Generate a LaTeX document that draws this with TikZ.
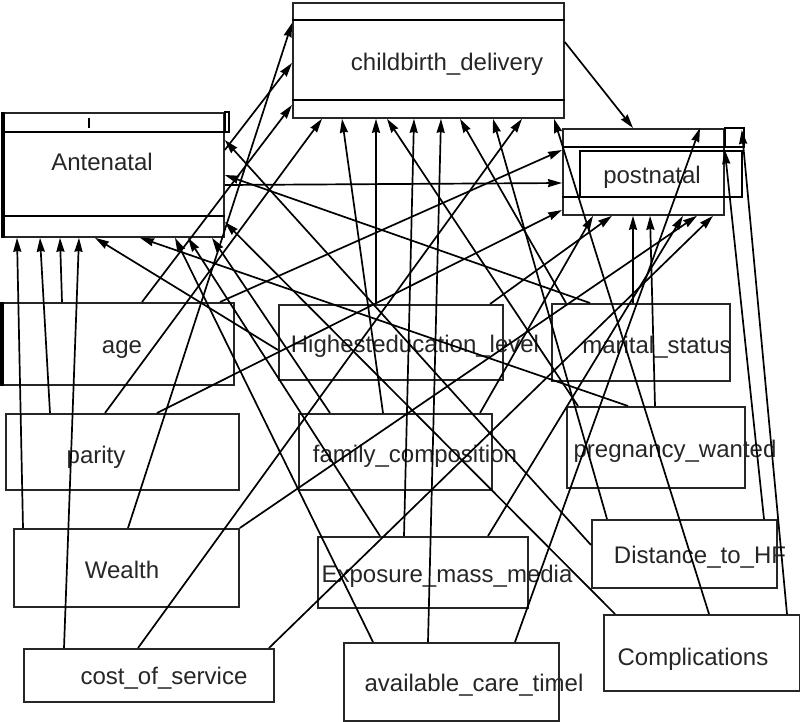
\documentclass[tikz,border=0pt]{standalone}
\usepackage{fontspec}
\setmainfont{Liberation Sans}
\usepackage{tikz}
\usetikzlibrary{arrows.meta}

\tikzset{
  box/.style={draw=black!85, line width=1.8pt, inner sep=0pt, anchor=north west},
  lbl/.style={font=\fontsize{24}{28}\selectfont, text=black!85, inner sep=0pt, anchor=base},
  arr/.style={-{Stealth[length=14pt,width=8pt,inset=1pt]}, line width=1.7pt},
}

\begin{document}
\begin{tikzpicture}[x=1pt,y=-1pt]
\useasboundingbox (0,0) rectangle (800,721);

% outcome boxes
\node[box, minimum width=220pt, minimum height=124pt] (ante) at (3,112) {};
\node[box, minimum width=271pt, minimum height=115pt] (cb) at (292,2) {};
\node[box, minimum width=161pt, minimum height=86pt] (pn) at (562,128) {};
\draw[line width=1.8pt] ([yshift=-20pt]ante.north west) -- ([yshift=-20pt]ante.north east);
\draw[line width=1.8pt] ([yshift=22pt]ante.south west) -- ([yshift=22pt]ante.south east);
\draw[line width=1.8pt] (ante.north east) rectangle ++(4,20);
\draw[line width=3.5pt] (ante.north west) -- (ante.south west);
\draw[line width=1.2pt] ([shift={(86,6)}]ante.north west) -- ++(0,10);
\draw[line width=1.8pt] ([yshift=-18pt]cb.north west) -- ([yshift=-18pt]cb.north east);
\draw[line width=1.8pt] ([yshift=19pt]cb.south west) -- ([yshift=19pt]cb.south east);
\draw[line width=1.8pt] ([yshift=-19pt]pn.north west) -- ([yshift=-19pt]pn.north east);
\draw[line width=1.8pt] ([yshift=19pt]pn.south west) -- ([yshift=19pt]pn.south east);
\draw[line width=1.8pt] (pn.north east) rectangle ++(19,19);
\draw[line width=1.8pt] ([shift={(18,23)}]pn.north west) rectangle ++(162,46);
\node[lbl] (antetxt) at (102,170) {Antenatal};
\node[lbl] (cbtxt) at (447,70) {childbirth\_delivery};
\node[lbl] (pntxt) at (652,183) {postnatal};

% predictor boxes
\node[box, minimum width=231pt, minimum height=82pt] (age) at (2,302) {};
\node[box, minimum width=233pt, minimum height=76pt] (parity) at (5,413) {};
\node[box, minimum width=224pt, minimum height=75pt] (hedu) at (278,304) {};
\node[box, minimum width=193pt, minimum height=76pt] (fam) at (298,413) {};
\node[box, minimum width=178pt, minimum height=77pt] (mar) at (551,303) {};
\node[box, minimum width=178pt, minimum height=81pt] (preg) at (566,406) {};
\node[box, minimum width=225pt, minimum height=78pt] (wealth) at (13,528) {};
\node[box, minimum width=250pt, minimum height=53pt] (cost) at (23,648) {};
\node[box, minimum width=210pt, minimum height=71pt] (media) at (317,536) {};
\node[box, minimum width=215pt, minimum height=78pt] (care) at (343,642) {};
\node[box, minimum width=185pt, minimum height=68pt] (dist) at (591,519) {};
\node[box, minimum width=196pt, minimum height=76pt] (compl) at (603,614) {};
\draw[line width=3.5pt] (age.north west) -- (age.south west);
\node[lbl] (agetxt) at (122,353) {age};
\node[lbl] (paritytxt) at (96,463) {parity};
\node[lbl] (hedutxt) at (415,352) {Highesteducation\_level};
\node[lbl] (famtxt) at (415,462) {family\_composition};
\node[lbl] (martxt) at (657,353) {marital\_status};
\node[lbl] (pregtxt) at (675,457) {pregnancy\_wanted};
\node[lbl] (wealthtxt) at (122,578) {Wealth};
\node[lbl] (costtxt) at (164,684) {cost\_of\_service};
\node[lbl] (mediatxt) at (447,582) {Exposure\_mass\_media};
\node[lbl] (caretxt) at (474,691) {available\_care\_timel};
\node[lbl] (disttxt) at (700,563) {Distance\_to\_HF};
\node[lbl] (compltxt) at (693,665) {Complications};

% paths into Antenatal
\draw[arr] ([xshift=60pt]age.north west) -- ([xshift=57pt]ante.south west);
\draw[arr] ([xshift=45pt]parity.north west) -- ([xshift=37pt]ante.south west);
\draw[arr] ([xshift=10pt]wealth.north west) -- ([xshift=14pt]ante.south west);
\draw[arr] ([xshift=41pt]cost.north west) -- ([xshift=76pt]ante.south west);
\draw[arr] ([yshift=-46pt]hedu.north west) -- ([xshift=92pt]ante.south west);
\draw[arr] ([xshift=62pt]preg.north west) -- ([xshift=137pt]ante.south west);
\draw[arr] ([xshift=30pt]care.north west) -- ([xshift=172pt]ante.south west);
\draw[arr] ([xshift=63pt]media.north west) -- ([xshift=185pt]ante.south west);
\draw[arr] ([xshift=32pt]fam.north west) -- ([xshift=209pt]ante.south west);
\draw[arr] ([yshift=-26pt]dist.north west) -- ([yshift=-28pt]ante.north east);
\draw[arr] ([xshift=39pt]mar.north west) -- ([yshift=-63pt]ante.north east);
\draw[arr] ([xshift=12pt]compl.north west) -- ([yshift=-110pt]ante.north east);

% paths into childbirth_delivery
\draw[arr] ([xshift=140pt]age.north west) -- ([yshift=-103pt]cb.north west);
\draw[arr] ([xshift=100pt]parity.north west) -- ([xshift=30pt]cb.south west);
\draw[arr] ([xshift=115pt]wealth.north west) -- ([yshift=-21pt]cb.north west);
\draw[arr] ([xshift=115pt]cost.north west) -- ([xshift=230pt]cb.south west);
\draw[arr] ([xshift=87pt]media.north west) -- ([xshift=122pt]cb.south west);
\draw[arr] ([xshift=85pt]care.north west) -- ([xshift=149pt]cb.south west);
\draw[arr] ([xshift=15pt]mar.north west) -- ([xshift=168pt]cb.south west);
\draw[arr] ([xshift=12pt]preg.north west) -- ([xshift=95pt]cb.south west);
\draw[arr] ([xshift=16pt]dist.north west) -- ([xshift=201pt]cb.south west);
\draw[arr] ([xshift=106pt]compl.north west) -- ([xshift=262pt]cb.south west);
\draw[arr] ([xshift=98pt]hedu.north west) -- ([xshift=84pt]cb.south west);
\draw[arr] ([xshift=85pt]fam.north west) -- ([xshift=50pt]cb.south west);
\draw[arr] ([yshift=-38pt]ante.north east) -- ([yshift=-61pt]cb.north west);

% paths into postnatal
\draw[arr] ([xshift=218pt]age.north west) -- ([yshift=-22pt]pn.north west);
\draw[arr] ([yshift=-73pt]ante.north east) -- ([yshift=-55pt]pn.north west);
\draw[arr] ([xshift=152pt]parity.north west) -- ([yshift=-82pt]pn.north west);
\draw[arr] ([yshift=-40pt]cb.north east) -- ([xshift=71pt]pn.north west);
\draw[arr] ([xshift=172pt]care.north west) -- ([xshift=138pt]pn.north west);
\draw[arr] ([xshift=82pt]mar.north west) -- ([xshift=71pt]pn.south west);
\draw[arr] ([xshift=89pt]preg.north west) -- ([xshift=88pt]pn.south west);
\draw[arr] ([xshift=171pt]media.north west) -- ([xshift=121pt]pn.south west);
\draw[arr] ([xshift=246pt]cost.north west) -- ([xshift=151pt]pn.south west);
\draw[arr] (wealth.north east) -- ([xshift=135pt]pn.south west);
\draw[arr] ([xshift=212pt]hedu.north west) -- ([xshift=50pt]pn.south west);
\draw[arr] ([xshift=182pt]fam.north west) -- ([xshift=31pt]pn.south west);
\draw[arr] ([xshift=173pt]dist.north west) -- ([yshift=-22pt]pn.north east);
\draw[arr] ([xshift=184pt]compl.north west) -- ([shift={(17,2)}]pn.north east);
\end{tikzpicture}
\end{document}
